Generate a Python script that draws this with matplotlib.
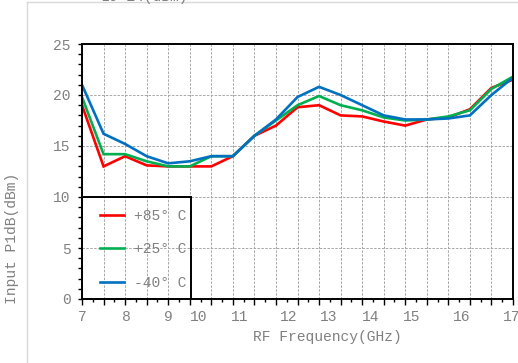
import numpy as np
import matplotlib
matplotlib.use("Agg")
import matplotlib.pyplot as plt
from matplotlib.lines import Line2D
from matplotlib.patches import Rectangle

# RF frequency points (GHz) and input P1dB (dBm) at three temperatures
freq = [7, 7.5, 8, 8.5, 9, 9.5, 10, 10.5, 11, 11.5, 12, 12.5, 13, 13.5,
        14, 14.5, 15, 15.5, 16, 16.5, 17]
p1db_85 = [19.0, 13.0, 14.0, 13.1, 13.0, 13.0, 13.0, 14.0, 16.0, 17.0, 18.8,
           19.0, 18.0, 17.9, 17.4, 17.0, 17.6, 17.8, 18.6, 20.7, 21.5]
p1db_25 = [19.8, 14.2, 14.2, 13.5, 13.0, 13.0, 14.0, 14.0, 16.0, 17.5, 19.0,
           19.9, 19.0, 18.5, 17.8, 17.5, 17.6, 17.9, 18.5, 20.6, 21.8]
p1db_m40 = [21.0, 16.2, 15.2, 14.0, 13.3, 13.5, 14.0, 14.0, 16.0, 17.6, 19.8,
            20.8, 20.0, 19.0, 18.0, 17.6, 17.6, 17.7, 18.0, 20.0, 21.7]

labels = ["+85° C", "+25° C", "-40° C"]
colors = ["#ff0000", "#00b050", "#0070c0"]

# x tick labels sit a little off the grid lines
xtick_pos = [7.0, 8.02, 9.0, 9.70, 10.67, 11.80, 12.73, 13.69, 14.66, 15.81, 16.97]
xtick_txt = ["7", "8", "9", "10", "11", "12", "13", "14", "15", "16", "17"]

font = "Liberation Mono"
grey = "#808080"

fig = plt.figure(figsize=(5.18, 3.63), dpi=100)
ax = fig.add_axes([82 / 518, 1 - 299 / 363, 431 / 518, 255 / 363])

for ys, c, lab in zip([p1db_85, p1db_25, p1db_m40], colors, labels):
    ax.plot(freq, ys, color=c, lw=1.9, label=lab, solid_joinstyle="miter")

ax.set_xlim(7, 17)
ax.set_ylim(0, 25)

# dashed grid every 0.5 GHz and every 5 dBm
for x in np.arange(7.5, 17, 0.5):
    ax.axvline(x, color="#a6a6a6", lw=0.7, ls=(0, (2.5, 1.5)), zorder=0)
for y in [5, 10, 15, 20]:
    ax.axhline(y, color="#a6a6a6", lw=0.7, ls=(0, (2.5, 1.5)), zorder=0)

ax.set_xticks(np.arange(7, 17.01, 0.5))
ax.set_xticks(np.arange(7, 17.01, 0.25), minor=True)
ax.set_xticklabels([])
ax.tick_params(axis="x", which="major", length=4, width=1, direction="out")
ax.tick_params(axis="x", which="minor", length=2.5, width=1, direction="out")
for xp, xt in zip(xtick_pos, xtick_txt):
    ax.text(xp, -0.071, xt, transform=ax.get_xaxis_transform(), ha="center",
            va="center", fontsize=10.5, color=grey, family=font)

ax.set_yticks([0, 5, 10, 15, 20, 25])
ax.set_yticks(np.arange(0, 25.1, 1), minor=True)
ax.tick_params(axis="y", which="both", length=3, width=1, direction="out",
               labelsize=10.5, labelcolor=grey, pad=5)
for t in ax.get_yticklabels():
    t.set_family(font)

for s in ax.spines.values():
    s.set_linewidth(1.4)
    s.set_color("black")

# legend box
ax.add_patch(Rectangle((7, 0), 2.53, 10, fill=False, ec="black", lw=1.4,
                       clip_on=False, zorder=3))
leg = ax.legend(loc="upper left", bbox_to_anchor=(0.042, 0.353), frameon=False,
                borderpad=0, borderaxespad=0, handlelength=1.65,
                handletextpad=0.7, labelspacing=1.33,
                prop={"family": font, "size": 10.5})
for t in leg.get_texts():
    t.set_color(grey)

fig.text(327 / 518, 1 - 337 / 363, "RF Frequency(GHz)", ha="center", va="center",
         fontsize=10.5, color=grey, family=font)
fig.text(12 / 518, 1 - 238 / 363, "Input P1dB(dBm)", ha="center", va="center",
         rotation=90, fontsize=10.5, color=grey, family=font)
fig.text(144 / 518, 1 - 1.5 / 363, "LO=14(dBm)", ha="center", va="baseline",
         fontsize=10.5, color=grey, family=font)

# outer chart-area border
fig.add_artist(Line2D([27 / 518, 27 / 518], [0, 1 - 2 / 363],
                      transform=fig.transFigure, color="#d9d9d9", lw=1))
fig.add_artist(Line2D([27 / 518, 1], [1 - 2 / 363, 1 - 2 / 363],
                      transform=fig.transFigure, color="#d9d9d9", lw=1))

fig.savefig("out.png", dpi=100)
